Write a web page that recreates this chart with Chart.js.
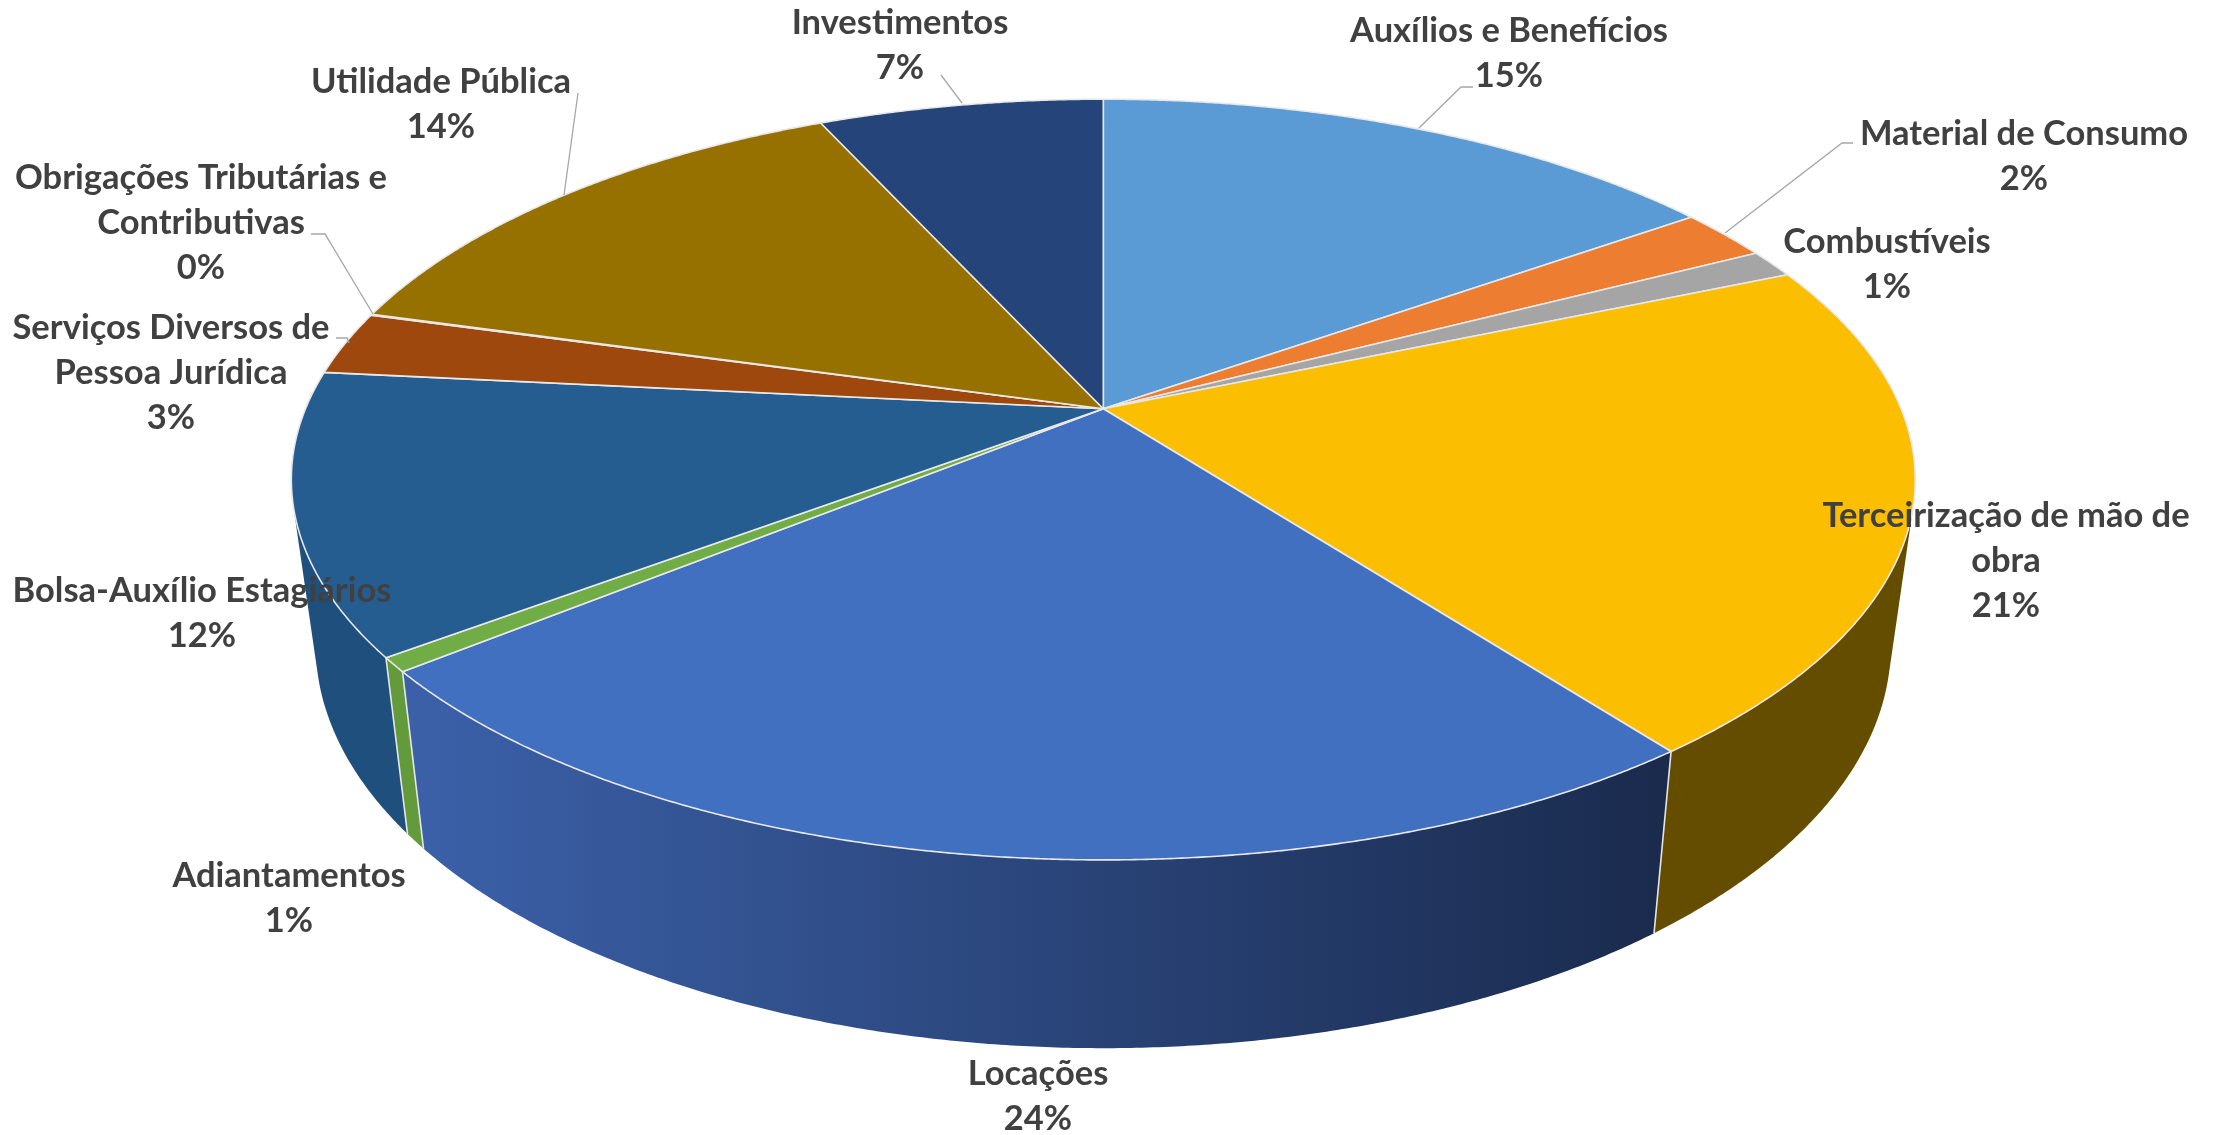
<!DOCTYPE html>
<html lang="pt"><head><meta charset="utf-8">
<style>html,body{margin:0;padding:0;background:#fff}canvas{display:block}</style>
<script src="https://cdn.jsdelivr.net/npm/chart.js@4/dist/chart.umd.min.js"></script>
</head><body><div style="width:2218px;height:1135px"><canvas id="c" width="2218" height="1135"></canvas></div>
<script>
const categories = ["Auxílios e Benefícios","Material de Consumo","Combustíveis","Terceirização de mão de obra","Locações","Adiantamentos","Bolsa-Auxílio Estagiários","Serviços Diversos de Pessoa Jurídica","Obrigações Tributárias e Contributivas","Utilidade Pública","Investimentos"];
const values = [15.2,2.2,1.2,21.05,24.5,0.6,11.9,2.7,0.05,13.85,6.8];
const percentLabels = ["15%","2%","1%","21%","24%","1%","12%","3%","0%","14%","7%"];
const topColors = ["#5b9bd5","#ed7d31","#a5a5a5","#fbbe00","#4270c0","#70ad47","#265d91","#9e480e","#636363","#967100","#24447a"];
const sideFrom = ["#3d6c98","#a5571f","#737373","#654d00","#3b60a8","#639a3c","#1f4f7c","#6e320a","#454545","#685000","#192f54"];
const sideTo   = ["#3d6c98","#a5571f","#737373","#654d00","#1a2b4e","#639a3c","#1f4f7c","#6e320a","#454545","#685000","#192f54"];
// label text layout: wrapped lines, centre x, y of each line
const labelLines = [["Auxílios e Benefícios"],["Material de Consumo"],["Combustíveis"],["Terceirização de mão de","obra"],["Locações"],["Adiantamentos"],["Bolsa-Auxílio Estagiários"],["Serviços Diversos de","Pessoa Jurídica"],["Obrigações Tributárias e","Contributivas"],["Utilidade Pública"],["Investimentos"]];
const labelX = [1509,2024,1887,2006,1038,289,202,171,201,441,900];
const labelY = [31,134,242,516,1074,876,591,328,178,82,23];
const leaders = [
 [[1473,87],[1461,87],[1419,128]],
 [[1853,143],[1842,143],[1725,233]],
 null,null,null,null,null,
 [[336,338],[347,338],[349,343]],
 [[311,234],[325,234],[373,314]],
 [[578,93],[564,195]],
 [[941,75],[962,103]]
];
// projection of the pie disc
const CX=1103.3, AY=408.8, K=797.8, A=-367.2, C=0.186, BOT_SX=0.97, BOT_SY=1.06, BOT_Y=570;
function topPt(ang){ const a=ang+Math.PI/2,u=Math.sin(a),v=Math.cos(a),w=1+C*v; return [CX+K*u/w, AY+A*v/w]; }
function botPt(ang){ const p=topPt(ang); return [CX+BOT_SX*(p[0]-CX), BOT_Y+BOT_SY*(p[1]-AY)]; }
function area(p){ let s=0; for(let i=0;i<p.length;i++){const q=p[(i+1)%p.length]; s+=p[i][0]*q[1]-q[0]*p[i][1];} return s; }
const pie3d={
 id:'pie3d',
 beforeDatasetDraw(chart){
  const ctx=chart.ctx, arcs=chart.getDatasetMeta(0).data;
  ctx.save(); ctx.lineJoin='round';
  // side wall: all quads of a slice share one path, wound the same way
  arcs.forEach((el,i)=>{
   const s=el.startAngle,e=el.endAngle,n=Math.max(2,Math.ceil((e-s)/0.006));
   const x0=botPt(s)[0],x1=botPt(e)[0];
   const g=ctx.createLinearGradient(Math.min(x0,x1),0,Math.max(x0,x1),0);
   g.addColorStop(0,sideFrom[i]); g.addColorStop(1,sideTo[i]);
   ctx.fillStyle=g;
   ctx.beginPath();
   for(let k=0;k<n;k++){
    const a=s+(e-s)*k/n,b=s+(e-s)*(k+1)/n; let p=[topPt(a),topPt(b),botPt(b),botPt(a)];
    if(area(p)<0)p=p.reverse();
    ctx.moveTo(p[0][0],p[0][1]); for(let q=1;q<4;q++)ctx.lineTo(p[q][0],p[q][1]); ctx.closePath();
   }
   ctx.fill();
  });
  // wall seams
  ctx.strokeStyle='#e6e6e6'; ctx.lineWidth=1.6;
  arcs.forEach(el=>{ const p=topPt(el.endAngle),q=botPt(el.endAngle);
   ctx.beginPath(); ctx.moveTo(p[0],p[1]); ctx.lineTo(q[0],q[1]); ctx.stroke(); });
  // top face
  arcs.forEach((el,i)=>{
   const s=el.startAngle,e=el.endAngle,n=Math.max(2,Math.ceil((e-s)/0.004));
   ctx.beginPath(); ctx.moveTo(CX,AY);
   for(let k=0;k<=n;k++){const p=topPt(s+(e-s)*k/n); ctx.lineTo(p[0],p[1]);}
   ctx.closePath(); ctx.fillStyle=topColors[i]; ctx.fill();
   ctx.strokeStyle='#e8e8e8'; ctx.lineWidth=1.6; ctx.stroke();
  });
  ctx.restore();
  return false;
 },
 afterDraw(chart){
  const ctx=chart.ctx; ctx.save();
  ctx.strokeStyle='#a6a6a6'; ctx.lineWidth=1.3;
  leaders.forEach(l=>{ if(!l)return; ctx.beginPath(); l.forEach((p,j)=>j?ctx.lineTo(p[0],p[1]):ctx.moveTo(p[0],p[1])); ctx.stroke(); });
  ctx.fillStyle='#404040'; ctx.font='bold 34.5px Lato'; ctx.textAlign='center'; ctx.textBaseline='middle';
  categories.forEach((_,i)=>{
   const lines=[...labelLines[i],percentLabels[i]];
   lines.forEach((t,j)=>ctx.fillText(t,labelX[i],labelY[i]+j*45));
  });
  ctx.restore();
 }
};
new Chart(document.getElementById('c'),{
 type:'pie',
 data:{labels:categories,datasets:[{data:values,backgroundColor:topColors,borderWidth:0}]},
 options:{responsive:false,animation:false,plugins:{legend:{display:false},tooltip:{enabled:false}}},
 plugins:[pie3d]
});
</script></body></html>
